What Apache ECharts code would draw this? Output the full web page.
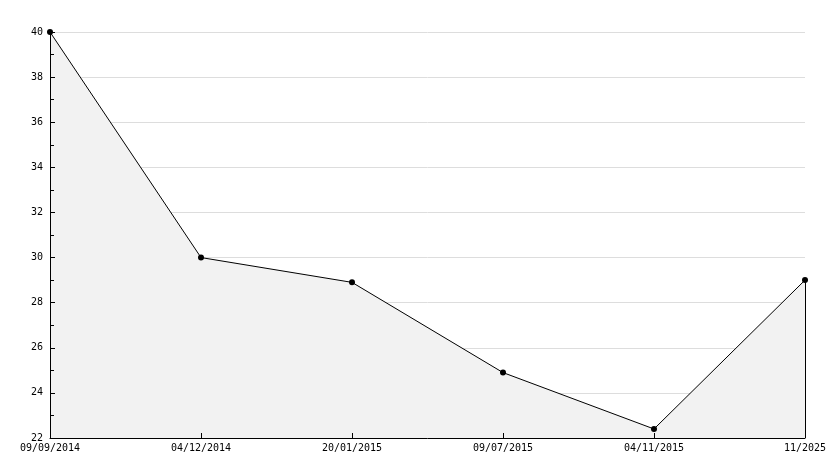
<!DOCTYPE html>
<html><head><meta charset="utf-8">
<script src="https://cdn.jsdelivr.net/npm/echarts@6/dist/echarts.min.js"></script>
<style>html,body{margin:0;padding:0;background:#fff}#c{width:834px;height:468px}</style>
</head><body><div id="c"></div>
<script>
const categories = ['09/09/2014','04/12/2014','20/01/2015','09/07/2015','04/11/2015','11/2025'];
const values = [40, 30, 28.9, 24.9, 22.4, 29];
const yMin = 22, yMax = 40, yStep = 2;

const chart = echarts.init(document.getElementById('c'), null, {renderer:'canvas'});
const font = 'DejaVu Sans Mono';
chart.setOption({
  animation:false,
  grid:{left:50,right:29,top:32,bottom:30,containLabel:false},
  xAxis:[{
    type:'category', data:categories, boundaryGap:false, z:10,
    axisLine:{lineStyle:{color:'#000',width:1}},
    axisTick:{inside:true,length:5,lineStyle:{color:'#000'}},
    axisLabel:{color:'#000',fontFamily:font,fontSize:10,margin:5,interval:0},
    splitLine:{show:false}
  }],
  yAxis:[{
    type:'value', min:yMin, max:yMax, interval:yStep, z:0,
    axisLine:{show:false}, axisTick:{show:false}, axisLabel:{show:false},
    splitLine:{show:true,lineStyle:{color:'#dddddd',width:1}}
  },{
    type:'value', min:yMin, max:yMax, interval:yStep, z:10, position:'left',
    axisLine:{show:true,lineStyle:{color:'#000',width:1}},
    axisTick:{show:true,inside:true,length:5,lineStyle:{color:'#000'}},
    minorTick:{show:true,splitNumber:2,length:4,lineStyle:{color:'#000'}},
    axisLabel:{color:'#000',fontFamily:font,fontSize:10,margin:7},
    splitLine:{show:false}
  }],
  series:[{
    type:'line', data:values, yAxisIndex:0,
    lineStyle:{color:'#000',width:1},
    itemStyle:{color:'#000'},
    symbol:'circle', symbolSize:6,
    areaStyle:{color:'#f2f2f2',opacity:1,origin:'start'},
    markLine:{
      silent:true, symbol:'none', label:{show:false},
      lineStyle:{color:'#000',width:1,type:'solid'},
      data:[[{coord:[categories[categories.length-1], values[values.length-1]]},{coord:[categories[categories.length-1], yMin]}]]
    }
  }]
});
</script></body></html>
